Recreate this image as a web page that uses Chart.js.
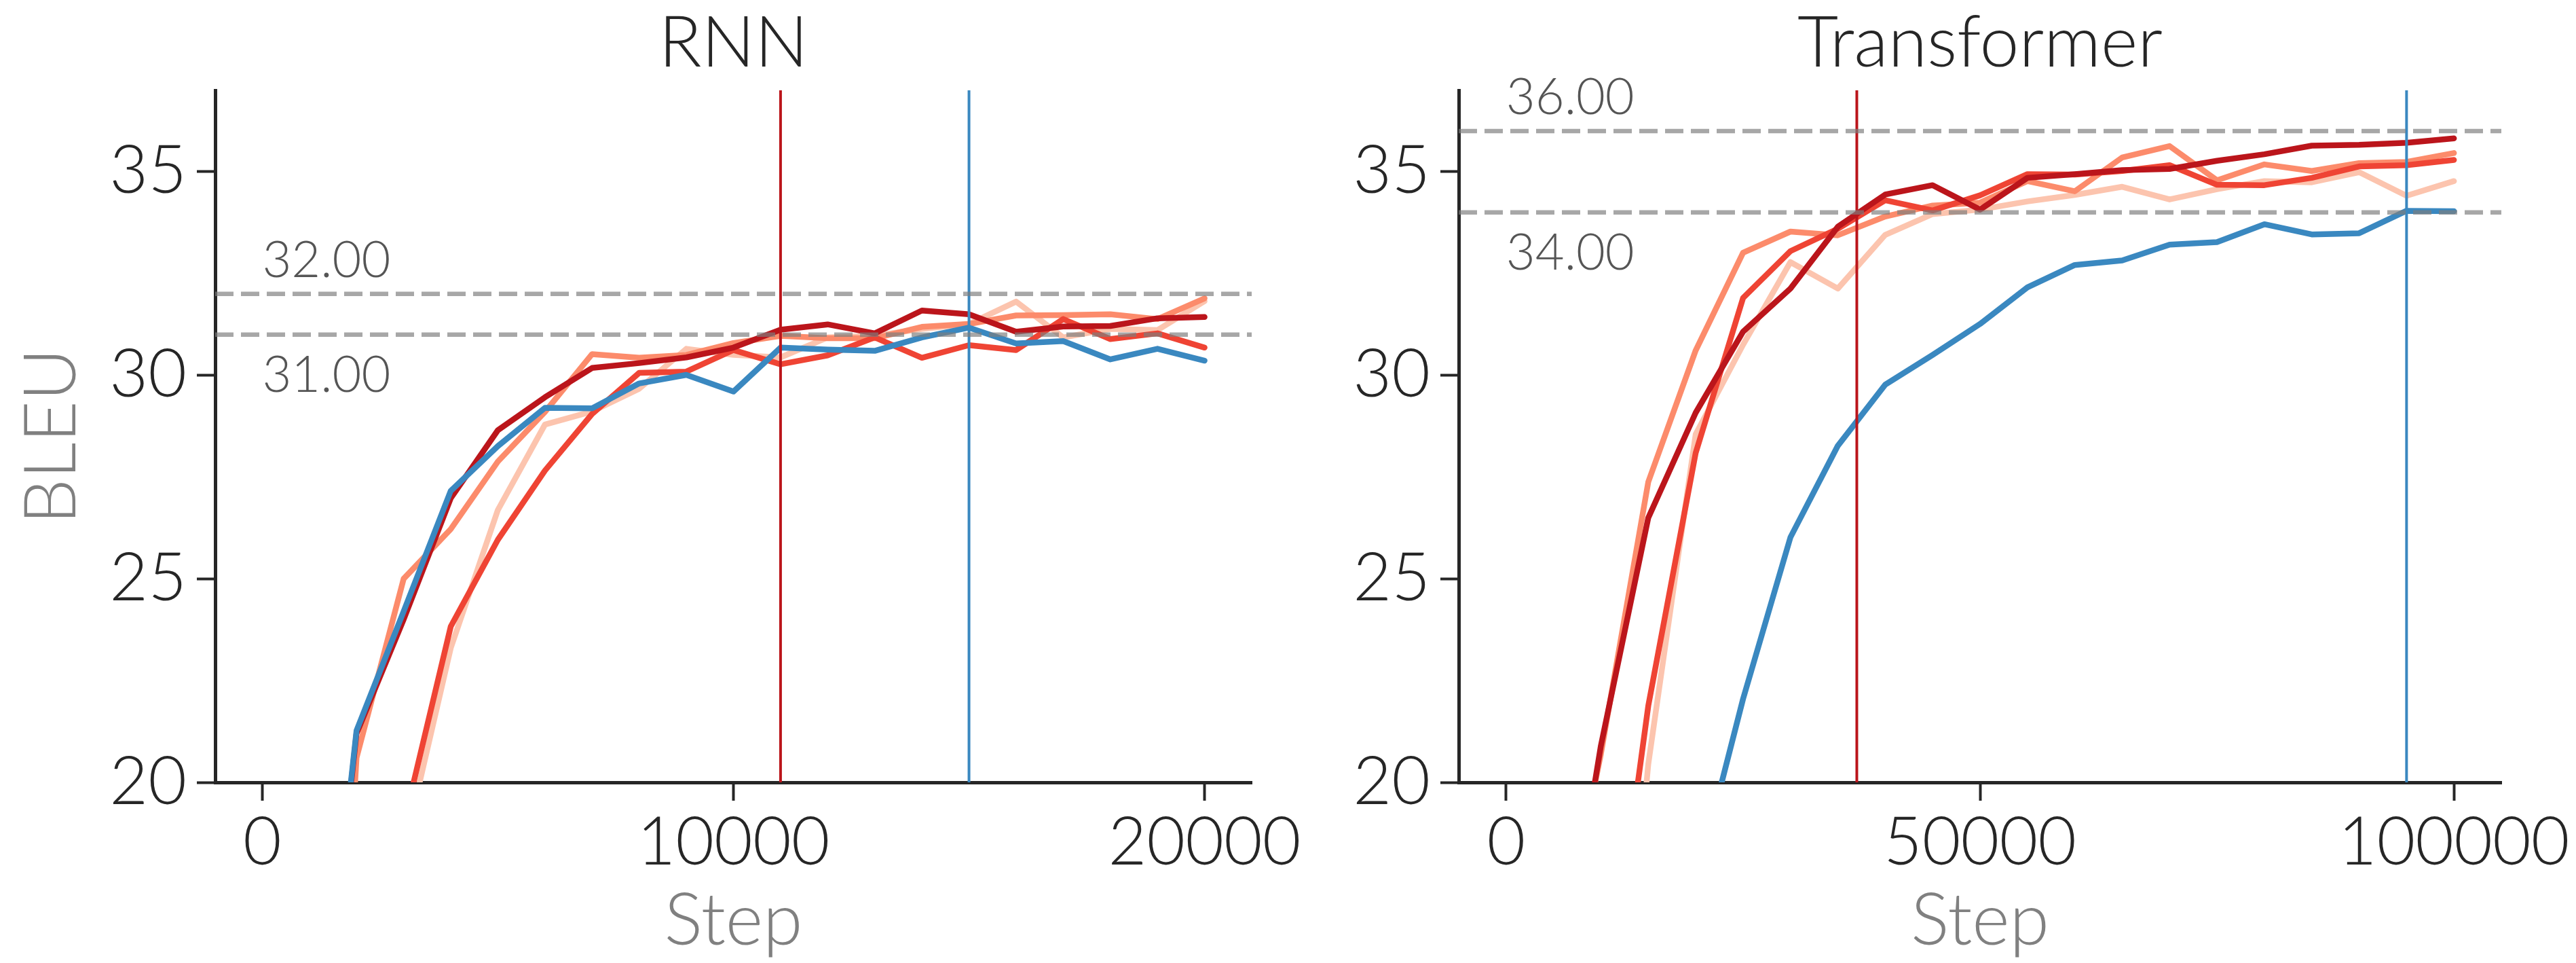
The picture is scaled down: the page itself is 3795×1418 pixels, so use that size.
<!DOCTYPE html>
<html>
<head>
<meta charset="utf-8">
<script src="https://cdn.jsdelivr.net/npm/chart.js@4.4.0/dist/chart.umd.min.js"></script>
<style>
  html, body { margin: 0; padding: 0; background: #fff; }
  #wrap { position: relative; width: 3795px; height: 1418px; overflow: hidden; background: #fff; }
  canvas { position: absolute; top: 0; }
  #rnn { left: 0; }
  #trf { left: 1970px; }
</style>
</head>
<body>
<div id="wrap">
  <canvas id="rnn" width="1970" height="1418"></canvas>
  <canvas id="trf" width="1825" height="1418"></canvas>
</div>
<script>
// RNN: BLEU every 1000 steps
const rnnSteps  = [1000, 2000, 3000, 4000, 5000, 6000, 7000, 8000, 9000, 10000,
                   11000, 12000, 13000, 14000, 15000, 16000, 17000, 18000, 19000, 20000];
const rnnBlue   = [10.7, 21.27, 24.2, 27.16, 28.26, 29.2, 29.19, 29.8, 30.01, 29.6,
                   30.68, 30.63, 30.6, 30.93, 31.17, 30.78, 30.84, 30.39, 30.65, 30.36];
const rnnDark   = [10.5, 21.2, 24.0, 26.98, 28.65, 29.46, 30.18, 30.3, 30.44, 30.68,
                   31.12, 31.25, 31.03, 31.59, 31.5, 31.07, 31.2, 31.21, 31.4, 31.43];
const rnnOrange = [1.0, 20.6, 25.0, 26.22, 27.88, 29.1, 30.52, 30.43, 30.5, 30.79,
                   30.97, 30.91, 30.91, 31.19, 31.26, 31.47, 31.48, 31.5, 31.38, 31.89];
const rnnRed    = [5.0, 12.0, 18.97, 23.83, 25.96, 27.66, 29.05, 30.06, 30.09, 30.62,
                   30.27, 30.49, 30.93, 30.43, 30.74, 30.62, 31.38, 30.89, 31.03, 30.68];
const rnnLight  = [3.0, 10.0, 18.3, 23.3, 26.69, 28.79, 29.11, 29.67, 30.65, 30.5,
                   30.44, 30.93, 30.97, 31.14, 31.26, 31.81, 30.93, 31.14, 31.11, 31.82];

// Transformer: BLEU every 5000 steps
const trfSteps  = [5000, 10000, 15000, 20000, 25000, 30000, 35000, 40000, 45000, 50000,
                   55000, 60000, 65000, 70000, 75000, 80000, 85000, 90000, 95000, 100000];
const trfBlue   = [2.0, 5.0, 10.0, 17.5, 22.05, 26.02, 28.27, 29.77, 30.5, 31.26,
                   32.16, 32.71, 32.82, 33.21, 33.27, 33.71, 33.46, 33.49, 34.04, 34.03];
const trfDark   = [13.8, 20.9, 26.5, 29.08, 31.07, 32.13, 33.65, 34.44, 34.67, 34.07,
                   34.85, 34.94, 35.04, 35.07, 35.27, 35.43, 35.64, 35.66, 35.71, 35.82];
const trfRed    = [6.0, 13.3, 21.88, 28.09, 31.9, 33.05, 33.6, 34.3, 34.05, 34.42,
                   34.94, 34.93, 35.02, 35.16, 34.68, 34.67, 34.85, 35.13, 35.16, 35.29];
const trfOrange = [14.9, 20.7, 27.38, 30.61, 33.01, 33.53, 33.44, 33.9, 34.17, 34.24,
                   34.77, 34.52, 35.35, 35.63, 34.79, 35.18, 35.02, 35.21, 35.24, 35.46];
const trfLight  = [3.0, 8.0, 20.45, 28.55, 30.75, 32.78, 32.13, 33.45, 33.96, 34.07,
                   34.27, 34.43, 34.63, 34.32, 34.57, 34.77, 34.74, 34.99, 34.41, 34.77];

// axes and reference marks
const yRange      = [20, 37];
const yTicks      = [20, 25, 30, 35];
const rnnXRange   = [-1000, 21000];
const rnnXTicks   = [0, 10000, 20000];
const trfXRange   = [-5000, 105000];
const trfXTicks   = [0, 50000, 100000];
const rnnRefLines = [32, 31];      // [upper, lower] dashed lines
const trfRefLines = [36, 34];
const rnnBestRed  = 11000;
const rnnBestBlue = 15000;
const trfBestRed  = 37000;
const trfBestBlue = 95000;

const C_LIGHT = '#fcc4ae', C_ORANGE = '#fc8b6b', C_RED = '#ef4434', C_DARK = '#bb151b', C_BLUE = '#3a88c0';
const INK = '#262626';

Chart.defaults.font.family = 'Lato';
Chart.defaults.font.weight = 300;

function series(steps, vals, color, order) {
  return {
    data: steps.map((s, i) => ({ x: s, y: vals[i] })),
    borderColor: color, borderWidth: 8.5, pointRadius: 0, tension: 0,
    borderCapStyle: 'round', borderJoinStyle: 'round', fill: false, order: order
  };
}
function hline(v, xr) {
  return {
    data: [{ x: xr[0], y: v }, { x: xr[1], y: v }],
    borderColor: 'rgba(125,125,125,0.68)', borderWidth: 6.5, borderDash: [27, 11],
    borderCapStyle: 'butt', pointRadius: 0, fill: false, order: 0
  };
}
function vline(step, color) {
  return {
    data: [{ x: step, y: yRange[0] }, { x: step, y: yRange[1] }],
    borderColor: color, borderWidth: 4, pointRadius: 0, fill: false, order: 1
  };
}

const panelText = {
  id: 'panelText',
  afterDraw(chart, args, opts) {
    const { ctx, chartArea, scales } = chart;
    ctx.save();
    ctx.fillStyle = INK;
    ctx.font = '300 104px Lato';
    ctx.textAlign = 'center';
    ctx.textBaseline = 'alphabetic';
    ctx.fillText(opts.title, (chartArea.left + chartArea.right) / 2, 98);
    ctx.font = '300 74px Lato';
    ctx.fillStyle = '#555555';
    ctx.textAlign = 'left';
    const x0 = scales.x.getPixelForValue(0);
    const up = opts.refs[0], lo = opts.refs[1];
    ctx.fillText(up.toFixed(2), x0, scales.y.getPixelForValue(up) - 25);
    ctx.fillText(lo.toFixed(2), x0, scales.y.getPixelForValue(lo) + 84);
    ctx.restore();
  }
};

function makeChart(id, cfg) {
  const xTicks = cfg.xTicks;
  return new Chart(document.getElementById(id), {
    type: 'line',
    data: { datasets: cfg.datasets },
    plugins: [panelText],
    options: {
      responsive: false, animation: false, devicePixelRatio: 1,
      layout: { padding: { left: 0, right: cfg.padRight, top: 133, bottom: 0 } },
      plugins: {
        legend: { display: false }, tooltip: { enabled: false }, title: { display: false },
        panelText: { title: cfg.title, refs: cfg.refs }
      },
      scales: {
        x: {
          type: 'linear', min: cfg.xRange[0], max: cfg.xRange[1],
          afterBuildTicks: s => { s.ticks = xTicks.map(v => ({ value: v })); },
          afterFit: s => { s.height = 1418 - 1152; },
          ticks: { color: INK, font: { size: 98, weight: 300, lineHeight: 1.2 }, padding: 4, maxRotation: 0,
                   callback: v => String(v) },
          grid: { drawOnChartArea: false, drawTicks: true, tickLength: 27, tickWidth: 4, tickColor: INK },
          border: { display: true, color: INK, width: 5 },
          title: { display: true, text: 'Step', color: '#808080',
                   font: { size: 106, weight: 300, lineHeight: 1 }, padding: { top: 0, bottom: 8 } }
        },
        y: {
          type: 'linear', min: yRange[0], max: yRange[1],
          afterBuildTicks: s => { s.ticks = yTicks.map(v => ({ value: v })); },
          afterFit: s => { s.width = cfg.yWidth; },
          ticks: { color: INK, font: { size: 98, weight: 300, lineHeight: 1.2 }, padding: 15,
                   callback: v => String(v) },
          grid: { drawOnChartArea: false, drawTicks: true, tickLength: 27, tickWidth: 4, tickColor: INK },
          border: { display: true, color: INK, width: 5 },
          title: { display: cfg.yTitle, text: 'BLEU', color: '#808080',
                   font: { size: 106, weight: 300, lineHeight: 1 }, padding: { top: 24, bottom: 0 } }
        }
      }
    }
  });
}

makeChart('rnn', {
  title: 'RNN', refs: rnnRefLines, xRange: rnnXRange, xTicks: rnnXTicks,
  yWidth: 317, padRight: 1970 - 1844, yTitle: true,
  datasets: [
    hline(rnnRefLines[0], rnnXRange), hline(rnnRefLines[1], rnnXRange),
    vline(rnnBestRed, C_DARK), vline(rnnBestBlue, C_BLUE),
    series(rnnSteps, rnnBlue, C_BLUE, 2),
    series(rnnSteps, rnnDark, C_DARK, 3),
    series(rnnSteps, rnnRed, C_RED, 4),
    series(rnnSteps, rnnOrange, C_ORANGE, 5),
    series(rnnSteps, rnnLight, C_LIGHT, 6)
  ]
});

makeChart('trf', {
  title: 'Transformer', refs: trfRefLines, xRange: trfXRange, xTicks: trfXTicks,
  yWidth: 2149 - 1970, padRight: 1825 - (3685 - 1970), yTitle: false,
  datasets: [
    hline(trfRefLines[0], trfXRange), hline(trfRefLines[1], trfXRange),
    vline(trfBestRed, C_DARK), vline(trfBestBlue, C_BLUE),
    series(trfSteps, trfBlue, C_BLUE, 2),
    series(trfSteps, trfDark, C_DARK, 3),
    series(trfSteps, trfRed, C_RED, 4),
    series(trfSteps, trfOrange, C_ORANGE, 5),
    series(trfSteps, trfLight, C_LIGHT, 6)
  ]
});
</script>
</body>
</html>
